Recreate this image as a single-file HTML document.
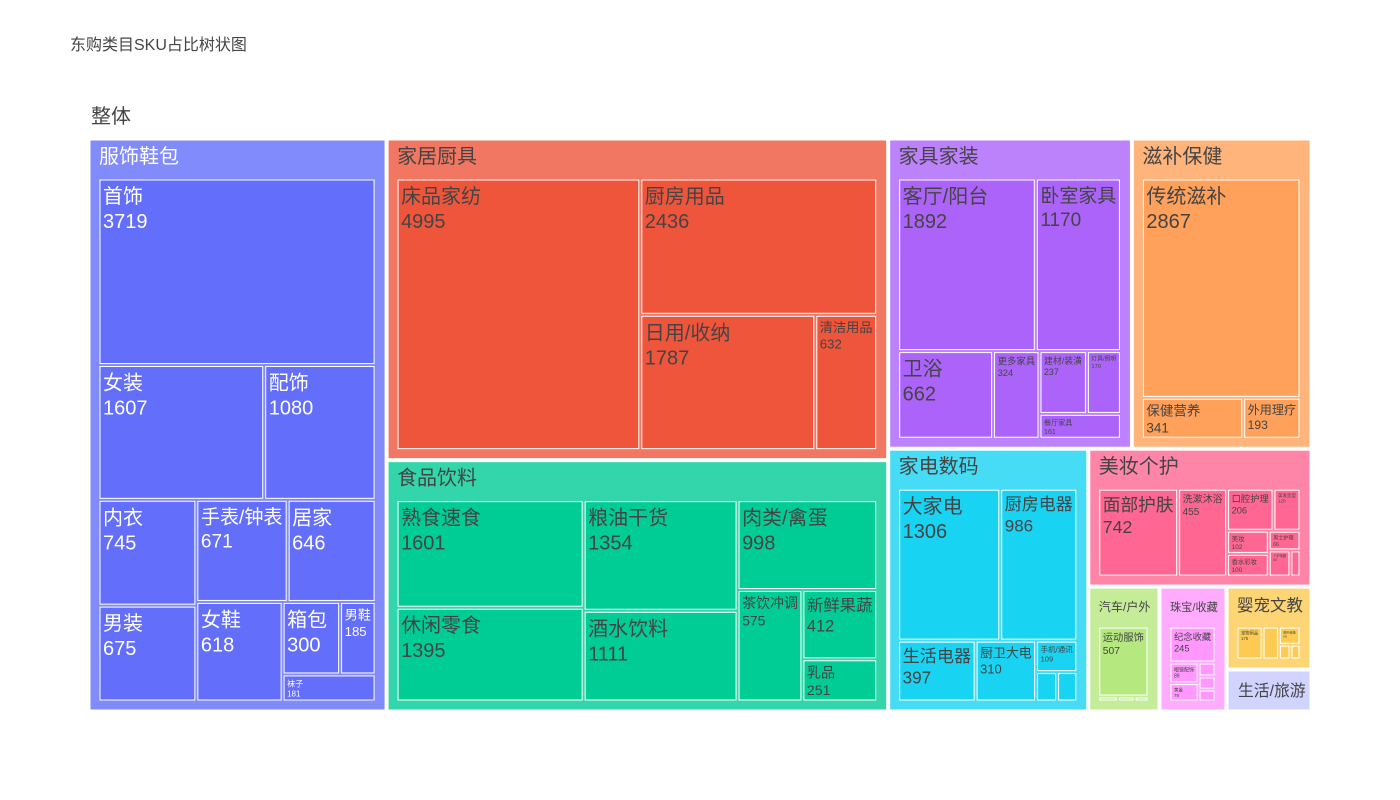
<!DOCTYPE html>
<html><head><meta charset="utf-8"><style>
body{margin:0;background:#fff;}
svg{display:block;font-family:"Liberation Sans","Noto Sans CJK SC",sans-serif;}
</style></head><body>
<svg id="chart" width="1400" height="800" viewBox="0 0 1400 800">
<text x="70" y="50" font-size="16" fill="#444">东购类目SKU占比树状图</text>
<text x="91" y="123" font-size="20" fill="#444">整体</text>
<g id="tiles"></g>
</svg>
<script>
const categories = ["服饰鞋包","家居厨具","食品饮料","家具家装","滋补保健","家电数码","美妆个护","汽车/户外","珠宝/收藏","婴宠文教","生活/旅游"];
const categoryColors = ["#636efa","#ef553b","#00cc96","#ab63fa","#ffa15a","#19d3f3","#ff6692","#b6e880","#ff97ff","#fecb52","#636efa"];
const subNames = [
 ["首饰","女装","配饰","内衣","男装","手表/钟表","居家","女鞋","箱包","男鞋","袜子"],
 ["床品家纺","厨房用品","日用/收纳","清洁用品"],
 ["熟食速食","休闲零食","粮油干货","酒水饮料","肉类/禽蛋","茶饮冲调","新鲜果蔬","乳品"],
 ["客厅/阳台","卧室家具","卫浴","更多家具","建材/装潢","灯具/照明","餐厅家具"],
 ["传统滋补","保健营养","外用理疗"],
 ["大家电","厨房电器","生活电器","厨卫大电","手机/通讯","电脑办公","摄影摄像"],
 ["面部护肤","洗漱沐浴","口腔护理","美发造型","美妆","香水彩妆","男士护理","个护电器","其他"],
 ["运动服饰","汽车用品","户外装备","骑行"],
 ["纪念收藏","眼镜配饰","黄金","古董","钱币","玉石"],
 ["宠物用品","文具办公","图书音像","母婴","玩具"],
 []
];
const subValues = [
 [3719,1607,1080,745,675,671,646,618,300,185,181],
 [4995,2436,1787,632],
 [1601,1395,1354,1111,998,575,412,251],
 [1892,1170,662,324,237,170,161],
 [2867,341,193],
 [1306,986,397,310,109,52,50],
 [742,455,206,120,102,100,66,60,28],
 [507,14,12,10],
 [245,89,79,35,33,30],
 [175,110,80,35,30],
 []
];
const emptyCategoryValue = [0,0,0,0,0,0,0,0,0,0,218];

const NS="http://www.w3.org/2000/svg";
const g=document.getElementById('tiles');
function mix(hex,a){const n=parseInt(hex.slice(1),16);const c=[n>>16,(n>>8)&255,n&255].map(v=>Math.round(v+(255-v)*a));return 'rgb('+c.join(',')+')';}
function squarify(nodes,x0,y0,x1,y1){
  let value=nodes.reduce((s,n)=>s+n.value,0),i0=0,i1=0,n=nodes.length;
  while(i0<n){
    const dx=x1-x0,dy=y1-y0;
    let sumValue=nodes[i1++].value,minV=sumValue,maxV=sumValue;
    const alpha=Math.max(dy/dx,dx/dy)/value;
    let beta=sumValue*sumValue*alpha,minRatio=Math.max(maxV/beta,beta/minV);
    for(;i1<n;++i1){const nv=nodes[i1].value;sumValue+=nv;if(nv<minV)minV=nv;if(nv>maxV)maxV=nv;
      beta=sumValue*sumValue*alpha;const nr=Math.max(maxV/beta,beta/minV);
      if(nr>minRatio){sumValue-=nv;break;}minRatio=nr;}
    const row=nodes.slice(i0,i1);
    if(dx<dy){const ny=value?y0+dy*sumValue/value:y1;let x=x0;const k=(x1-x0)/sumValue;
      row.forEach(nd=>{nd.x0=x;nd.x1=x+=nd.value*k;nd.y0=y0;nd.y1=ny;});y0=ny;}
    else{const nx=value?x0+dx*sumValue/value:x1;let y=y0;const k=(y1-y0)/sumValue;
      row.forEach(nd=>{nd.y0=y;nd.y1=y+=nd.value*k;nd.x0=x0;nd.x1=nx;});x0=nx;}
    value-=sumValue;i0=i1;
  }
}
function textW(s){let w=0;for(const ch of s){w+=/[\u3000-\u9fff]/.test(ch)?1:(ch==='/'?0.3:0.56);}return w;}
function addRect(r,fill,name){const e=document.createElementNS(NS,'rect');
  e.setAttribute('x',r.x0);e.setAttribute('y',r.y0);e.setAttribute('width',Math.max(0,r.x1-r.x0));e.setAttribute('height',Math.max(0,r.y1-r.y0));
  e.setAttribute('fill',fill);e.setAttribute('stroke','#fff');e.setAttribute('stroke-width','1');
  
  
  g.appendChild(e);}
function addText(x,y,s,fs,col,name){const t=document.createElementNS(NS,'text');
  t.setAttribute('x',x);t.setAttribute('y',y);t.setAttribute('font-size',fs.toFixed(1));t.setAttribute('fill',col);t.textContent=s;
  
  
  g.appendChild(t);}
const topNodes=categories.map((c,i)=>({name:c,idx:i,value:subValues[i].reduce((s,v)=>s+v,0)+emptyCategoryValue[i]}));
topNodes.sort((a,b)=>b.value-a.value);
squarify(topNodes,88.5,138.5,1311.5,711.5);
topNodes.forEach(nd=>{
  const r={x0:nd.x0+1.5,y0:nd.y0+1.5,x1:nd.x1-1.5,y1:nd.y1-1.5};
  const col=categoryColors[nd.idx];
  const tc=nd.idx===0?'#fff':'#444';
  const kids=subNames[nd.idx].map((n,j)=>({name:n,value:subValues[nd.idx][j]}));
  if(!kids.length){
    addRect(r,mix(col,0.7),'category-'+nd.idx);
    const fs=Math.min(20,(r.x1-r.x0-14)/textW(nd.name));
    addText(r.x0+10,(r.y0+r.y1)/2+fs*0.35,nd.name,fs,'#444','category-label-'+nd.idx);return;}
  addRect(r,mix(col,0.2),'category-'+nd.idx);
  const hfs=Math.min(20,(r.x1-r.x0-16)/textW(nd.name));
  addText(r.x0+9,r.y0+23,nd.name,hfs,tc,'category-label-'+nd.idx);
  kids.sort((a,b)=>b.value-a.value);
  squarify(kids,r.x0+8.5,r.y0+38.5,r.x1-9.5,r.y1-8.5);
  kids.forEach((k,j)=>{
    const kr={x0:k.x0+1.5,y0:k.y0+1.5,x1:k.x1-1.5,y1:k.y1-1.5};
    const w=kr.x1-kr.x0,h=kr.y1-kr.y0;
    addRect(kr,col,'tile-'+nd.idx+'-'+j);
    const fs=Math.min(20,(w-6)/Math.max(textW(k.name),textW(String(k.value))),(h-4)/2.5);
    if(fs>=3){
      addText(kr.x0+3,kr.y0+fs*1.05+2,k.name,fs,tc,'tile-label-'+nd.idx+'-'+j);
      addText(kr.x0+3,kr.y0+fs*2.3+2,String(k.value),fs,tc,'tile-value-'+nd.idx+'-'+j);
    }
  });
});
</script>
</body></html>
